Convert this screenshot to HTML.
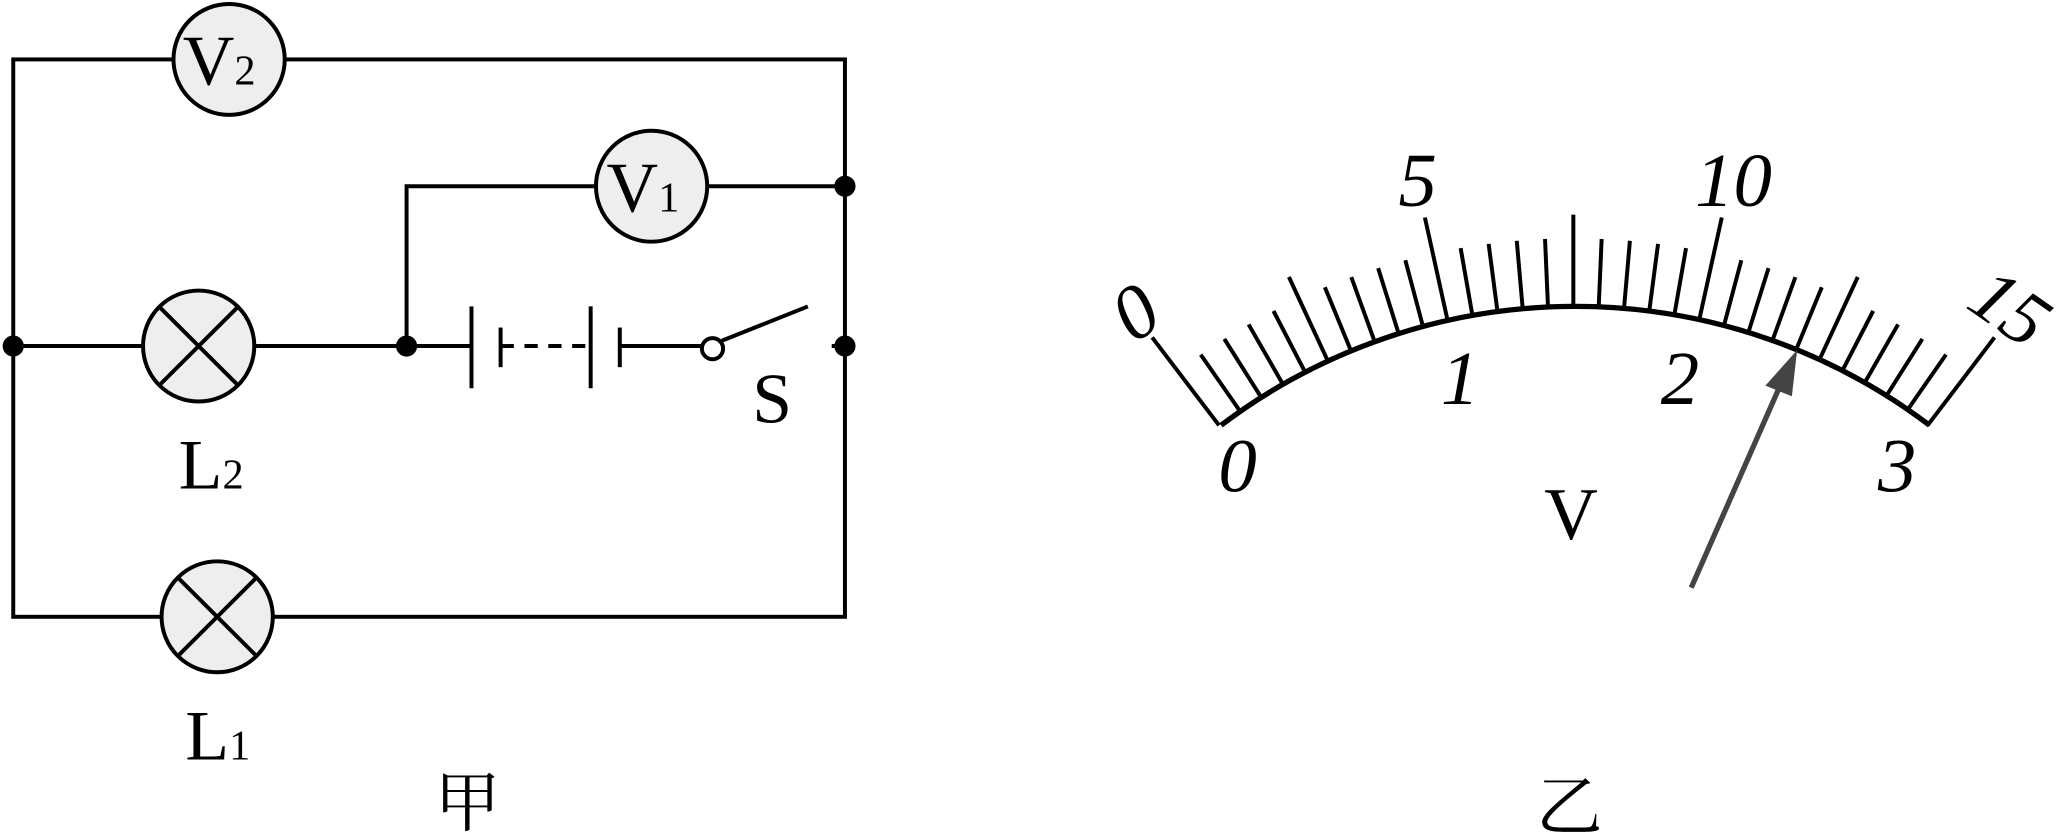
<!DOCTYPE html>
<html><head><meta charset="utf-8"><style>
html,body{margin:0;padding:0;background:#fff}
svg{display:block}
text{font-family:"Liberation Serif","Noto Serif CJK SC",serif;fill:#000}
</style></head><body>
<svg width="2066" height="840" viewBox="0 0 1560 636" preserveAspectRatio="none" xmlns="http://www.w3.org/2000/svg">
<g stroke="#000" stroke-width="3" fill="none">
<rect x="10" y="45" width="628" height="422"/>
<path d="M307 262 V141 H638"/>
<path d="M10 262 H356 M468 262 H530 M628 262 H638"/>
<line x1="356" y1="232" x2="356" y2="294"/>
<line x1="378" y1="248" x2="378" y2="278"/>
<line x1="378" y1="262" x2="446" y2="262" stroke-dasharray="10,8"/>
<line x1="446" y1="232" x2="446" y2="294"/>
<line x1="468" y1="248" x2="468" y2="278"/>
<line x1="545" y1="258" x2="610" y2="232"/>
</g>
<g stroke="#000" stroke-width="3" fill="#eee">
<circle cx="173" cy="45" r="42"/>
<circle cx="492" cy="141" r="42"/>
<circle cx="150" cy="262" r="42"/>
<circle cx="164" cy="467" r="42"/>
<circle cx="538" cy="264" r="8" fill="#fff"/>
</g>
<g stroke="#000" stroke-width="3">
<path d="M120 232 L180 292 M180 232 L120 292"/>
<path d="M134 437 L194 497 M194 437 L134 497"/>
</g>
<g fill="#000">
<circle cx="10" cy="262" r="8"/><circle cx="307" cy="262" r="8"/>
<circle cx="638" cy="262" r="8"/><circle cx="638" cy="141" r="8"/>
</g>
<text x="138" y="64" font-size="54">V<tspan font-size="32">2</tspan></text>
<text x="458" y="160" font-size="54">V<tspan font-size="32">1</tspan></text>
<text x="135" y="370" font-size="54">L<tspan font-size="32">2</tspan></text>
<text x="140" y="575" font-size="54">L<tspan font-size="32">1</tspan></text>
<text x="568" y="320" font-size="54">S</text>
<text x="328" y="625" font-size="50">甲</text>
<text x="1160" y="628" font-size="50">乙</text>
<!-- meter -->
<path d="M922 322 A442.5 442.5 0 0 1 1457 322" stroke="#000" stroke-width="4" fill="none"/>
<g stroke="#000" stroke-width="3" transform="translate(1188 674.5)">
<line x1="0" y1="-442.5" x2="0" y2="-526" transform="rotate(-37.2)"/>
<line x1="0" y1="-442.5" x2="0" y2="-494" transform="rotate(-34.72)"/>
<line x1="0" y1="-442.5" x2="0" y2="-494" transform="rotate(-32.24)"/>
<line x1="0" y1="-442.5" x2="0" y2="-494" transform="rotate(-29.76)"/>
<line x1="0" y1="-442.5" x2="0" y2="-494" transform="rotate(-27.28)"/>
<line x1="0" y1="-442.5" x2="0" y2="-512" transform="rotate(-24.8)"/>
<line x1="0" y1="-442.5" x2="0" y2="-494" transform="rotate(-22.32)"/>
<line x1="0" y1="-442.5" x2="0" y2="-494" transform="rotate(-19.84)"/>
<line x1="0" y1="-442.5" x2="0" y2="-494" transform="rotate(-17.36)"/>
<line x1="0" y1="-442.5" x2="0" y2="-494" transform="rotate(-14.88)"/>
<line x1="0" y1="-442.5" x2="0" y2="-522" transform="rotate(-12.4)"/>
<line x1="0" y1="-442.5" x2="0" y2="-494" transform="rotate(-9.92)"/>
<line x1="0" y1="-442.5" x2="0" y2="-494" transform="rotate(-7.44)"/>
<line x1="0" y1="-442.5" x2="0" y2="-494" transform="rotate(-4.96)"/>
<line x1="0" y1="-442.5" x2="0" y2="-494" transform="rotate(-2.48)"/>
<line x1="0" y1="-442.5" x2="0" y2="-512" transform="rotate(0)"/>
<line x1="0" y1="-442.5" x2="0" y2="-494" transform="rotate(2.48)"/>
<line x1="0" y1="-442.5" x2="0" y2="-494" transform="rotate(4.96)"/>
<line x1="0" y1="-442.5" x2="0" y2="-494" transform="rotate(7.44)"/>
<line x1="0" y1="-442.5" x2="0" y2="-494" transform="rotate(9.92)"/>
<line x1="0" y1="-442.5" x2="0" y2="-522" transform="rotate(12.4)"/>
<line x1="0" y1="-442.5" x2="0" y2="-494" transform="rotate(14.88)"/>
<line x1="0" y1="-442.5" x2="0" y2="-494" transform="rotate(17.36)"/>
<line x1="0" y1="-442.5" x2="0" y2="-494" transform="rotate(19.84)"/>
<line x1="0" y1="-442.5" x2="0" y2="-494" transform="rotate(22.32)"/>
<line x1="0" y1="-442.5" x2="0" y2="-512" transform="rotate(24.8)"/>
<line x1="0" y1="-442.5" x2="0" y2="-494" transform="rotate(27.28)"/>
<line x1="0" y1="-442.5" x2="0" y2="-494" transform="rotate(29.76)"/>
<line x1="0" y1="-442.5" x2="0" y2="-494" transform="rotate(32.24)"/>
<line x1="0" y1="-442.5" x2="0" y2="-494" transform="rotate(34.72)"/>
<line x1="0" y1="-442.5" x2="0" y2="-526" transform="rotate(37.2)"/>
</g>
<line x1="1277" y1="445" x2="1345" y2="290" stroke="#444" stroke-width="4"/>
<polygon points="1357,265 1333,292 1353,300" fill="#444"/>
<g font-style="italic" font-size="58">
<text x="842" y="255" transform="rotate(-35 858 235)">0</text>
<text x="1056" y="156">5</text>
<text x="1280" y="156">10</text>
<text x="1490" y="250" transform="rotate(35 1515 230)">15</text>
<text x="920" y="372">0</text>
<text x="1088" y="306">1</text>
<text x="1254" y="306">2</text>
<text x="1418" y="372">3</text>
</g>
<text x="1166" y="408" font-size="56">V</text>
</svg>
</body></html>
